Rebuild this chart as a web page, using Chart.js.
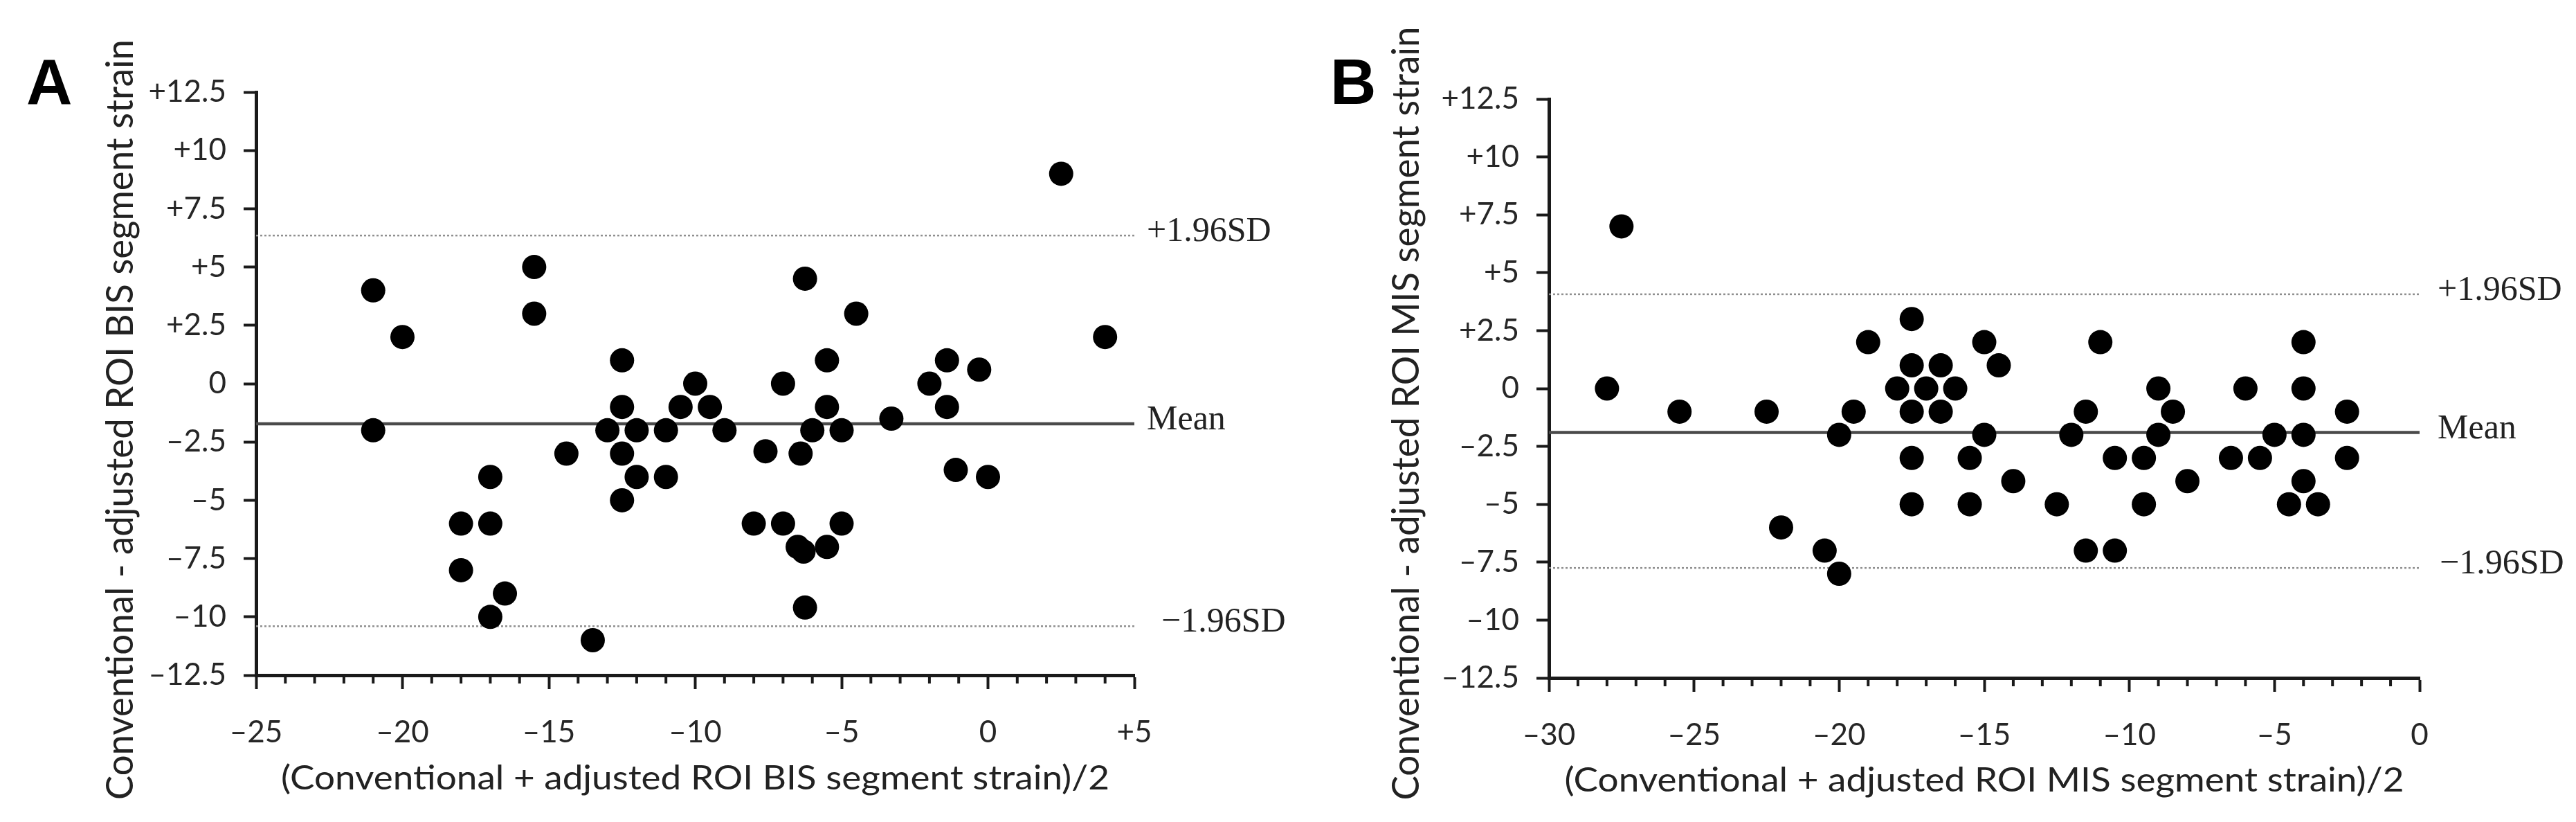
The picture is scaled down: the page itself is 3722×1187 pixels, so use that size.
<!DOCTYPE html>
<html>
<head>
<meta charset="utf-8">
<script src="https://cdn.jsdelivr.net/npm/chart.js@4.4.1/dist/chart.umd.min.js"></script>
<style>
  html, body { margin: 0; padding: 0; background: #fff; }
  #wrap { position: relative; width: 3722px; height: 1187px; }
  canvas { position: absolute; top: 0; }
</style>
</head>
<body>
<div id="wrap">
  <canvas id="chartA" width="1861" height="1187" style="left:0"></canvas>
  <canvas id="chartB" width="1861" height="1187" style="left:1861px"></canvas>
</div>
<script>
// Panel A - BIS segment strain (Bland-Altman)
var bisAvg  = [-21, -20, -21, -15.5, -15.5, -12.5, -12.5, -13, -12, -14.4, -12.5, -12, -12.5, -17, -18, -17, -18, -16.5, -17, -13.5,
               2.5, -6.25, -4.5, 4, -5.5, -1.4, -0.3, -10, -7, -2, -10.5, -9.5, -5.5, -1.4, -11, -9, -6, -5, -3.3, -7.6,
               -6.4, -11, -1.1, 0, -8, -7, -5, -6.5, -6.3, -5.5, -6.25];
var bisDiff = [4, 2, -2, 5, 3, 1, -1, -2, -2, -3, -3, -4, -5, -4, -6, -6, -8, -9, -10, -11,
               9, 4.5, 3, 2, 1, 1, 0.6, 0, 0, 0, -1, -1, -1, -1, -2, -2, -2, -2, -1.5, -2.9,
               -3, -4, -3.7, -4, -6, -6, -6, -7, -7.2, -7, -9.6];
var bisLimits = [6.35, -1.72, -10.4];

// Panel B - MIS segment strain
var misAvg  = [-27.5, -28, -25.5, -22.5, -19.5, -20, -22, -20.5, -20, -19, -17.5, -17.5, -16.5, -18, -17, -16, -17.5, -16.5, -17.5, -17.5,
               -15, -14.5, -15, -15.5, -15.5, -14, -12, -11.5, -11, -12.5, -11.5, -10.5, -10.5, -9.5, -9.5, -9, -9, -8.5, -8,
               -6, -6.5, -5.5, -5, -4, -4, -4, -4, -4.5, -3.5, -2.5, -2.5];
var misDiff = [7, 0, -1, -1, -1, -2, -6, -7, -8, 2, 3, 1, 1, 0, 0, 0, -1, -1, -3, -5,
               2, 1, -2, -3, -5, -4, -2, -1, 2, -5, -7, -7, -3, -3, -5, 0, -2, -1, -4,
               0, -3, -3, -2, 2, 0, -2, -4, -5, -5, -1, -3];
var misLimits = [4.07, -1.9, -7.75];

var limitLabels = ['+1.96SD', 'Mean', '\u22121.96SD'];
var yTickValues = [12.5, 10, 7.5, 5, 2.5, 0, -2.5, -5, -7.5, -10, -12.5];
var yTickLabels = ['+12.5', '+10', '+7.5', '+5', '+2.5', '0', '\u20132.5', '\u20135', '\u20137.5', '\u201310', '\u201312.5'];
var xTickValuesA = [-25, -20, -15, -10, -5, 0, 5];
var xTickLabelsA = ['\u201325', '\u201320', '\u201315', '\u201310', '\u20135', '0', '+5'];
var xTickValuesB = [-30, -25, -20, -15, -10, -5, 0];
var xTickLabelsB = ['\u201330', '\u201325', '\u201320', '\u201315', '\u201310', '\u20135', '0'];

var axisColor = '#1a1a1a';
var tickFont = { family: 'Lato', size: 44 };

// draw text stretched/squeezed to an exact length
function fitText(ctx, text, x, y, len, font) {
  ctx.font = font;
  var w = ctx.measureText(text).width;
  ctx.save();
  ctx.translate(x, y);
  ctx.scale(len / w, 1);
  ctx.textAlign = 'center';
  ctx.textBaseline = 'alphabetic';
  ctx.fillText(text, 0, 0);
  ctx.restore();
}

function makePanel(id, p) {
  var pts = p.avg.map(function (x, i) { return { x: x, y: p.diff[i] }; });
  var limitLine = function (v) { return [{ x: p.xMin, y: v }, { x: p.xMax, y: v }]; };
  var limitStyle = [
    { color: '#8f8f8f', width: 2.5, dash: [3, 3] },
    { color: '#4a4a4a', width: 4.5, dash: [] },
    { color: '#8f8f8f', width: 2.5, dash: [3, 3] }
  ];

  var datasets = [{
    label: 'points',
    data: pts,
    pointRadius: 17.5,
    pointBackgroundColor: '#000',
    pointBorderWidth: 0,
    order: 0
  }];
  p.limits.forEach(function (v, i) {
    datasets.push({
      type: 'line',
      label: limitLabels[i],
      data: limitLine(v),
      borderColor: limitStyle[i].color,
      borderWidth: limitStyle[i].width,
      borderDash: limitStyle[i].dash,
      pointRadius: 0,
      fill: false,
      order: 1
    });
  });

  var panelText = {
    id: 'panelText',
    afterDraw: function (chart) {
      var ctx = chart.ctx, a = chart.chartArea;
      var xs = chart.scales.x, ys = chart.scales.y;
      ctx.save();
      // minor ticks every 1 unit on the x axis
      ctx.strokeStyle = axisColor;
      ctx.lineWidth = 4;
      for (var v = p.xMin; v <= p.xMax; v++) {
        if (v % 5 === 0) continue;
        var px = xs.getPixelForValue(v);
        ctx.beginPath();
        ctx.moveTo(px, a.bottom);
        ctx.lineTo(px, a.bottom + 12);
        ctx.stroke();
      }
      ctx.fillStyle = '#222';
      // limit line labels
      ctx.font = '50px "Liberation Serif"';
      ctx.textAlign = 'left';
      ctx.textBaseline = 'middle';
      p.limits.forEach(function (v, i) {
        ctx.fillText(limitLabels[i], a.right + p.labelGap[i], ys.getPixelForValue(v) - 5);
      });
      // axis titles
      fitText(ctx, p.xTitle, (a.left + a.right) / 2, p.xTitleBase, p.xTitleLen, '48px Lato');
      ctx.save();
      ctx.translate(p.yTitleBase, p.yTitleMid);
      ctx.rotate(-Math.PI / 2);
      fitText(ctx, p.yTitle, 0, 0, p.yTitleLen, '55px Lato');
      ctx.restore();
      // panel letter
      ctx.fillStyle = '#000';
      ctx.font = 'bold 92px "Liberation Sans"';
      ctx.textAlign = 'left';
      ctx.textBaseline = 'alphabetic';
      ctx.fillText(p.letter, p.letterX, 150);
      ctx.restore();
    }
  };

  return new Chart(document.getElementById(id), {
    type: 'scatter',
    data: { datasets: datasets },
    plugins: [panelText],
    options: {
      responsive: false,
      animation: false,
      devicePixelRatio: 1,
      events: [],
      layout: { padding: { top: p.top, right: p.right, left: 0, bottom: 0 } },
      plugins: { legend: { display: false }, tooltip: { enabled: false } },
      scales: {
        x: {
          type: 'linear',
          min: p.xMin,
          max: p.xMax,
          afterBuildTicks: function (s) { s.ticks = p.xTicks.map(function (v) { return { value: v }; }); },
          afterFit: function (s) { s.height = p.xHeight; },
          ticks: {
            font: tickFont,
            color: '#262626',
            padding: 36,
            maxRotation: 0,
            callback: function (v) { return p.xLabels[p.xTicks.indexOf(v)]; }
          },
          grid: { drawOnChartArea: false, tickLength: 20, tickWidth: 4, tickColor: axisColor },
          border: { color: axisColor, width: 5 }
        },
        y: {
          type: 'linear',
          min: -12.5,
          max: 12.5,
          afterBuildTicks: function (s) { s.ticks = yTickValues.map(function (v) { return { value: v }; }); },
          afterFit: function (s) { s.width = p.yWidth; },
          ticks: {
            font: tickFont,
            color: '#262626',
            padding: 25,
            callback: function (v) { return yTickLabels[yTickValues.indexOf(v)]; }
          },
          grid: { drawOnChartArea: false, tickLength: 18, tickWidth: 4, tickColor: axisColor },
          border: { color: axisColor, width: 5 }
        }
      }
    }
  });
}

makePanel('chartA', {
  avg: bisAvg, diff: bisDiff, limits: bisLimits,
  xMin: -25, xMax: 5, xTicks: xTickValuesA, xLabels: xTickLabelsA,
  top: 133, right: 222, yWidth: 370, xHeight: 212,
  labelGap: [18, 18, 39],
  xTitle: '(Conventional + adjusted ROI BIS segment strain)/2', xTitleBase: 1140, xTitleLen: 1197,
  yTitle: 'Conventional - adjusted ROI BIS segment strain', yTitleBase: 192, yTitleMid: 606, yTitleLen: 1098,
  letter: 'A', letterX: 38
});

makePanel('chartB', {
  avg: misAvg, diff: misDiff, limits: misLimits,
  xMin: -30, xMax: 0, xTicks: xTickValuesB, xLabels: xTickLabelsB,
  top: 143, right: 226, yWidth: 377, xHeight: 208,
  labelGap: [26, 26, 29],
  xTitle: '(Conventional + adjusted ROI MIS segment strain)/2', xTitleBase: 1143, xTitleLen: 1213,
  yTitle: 'Conventional - adjusted ROI MIS segment strain', yTitleBase: 189, yTitleMid: 597, yTitleLen: 1117,
  letter: 'B', letterX: 61
});
</script>
</body>
</html>
